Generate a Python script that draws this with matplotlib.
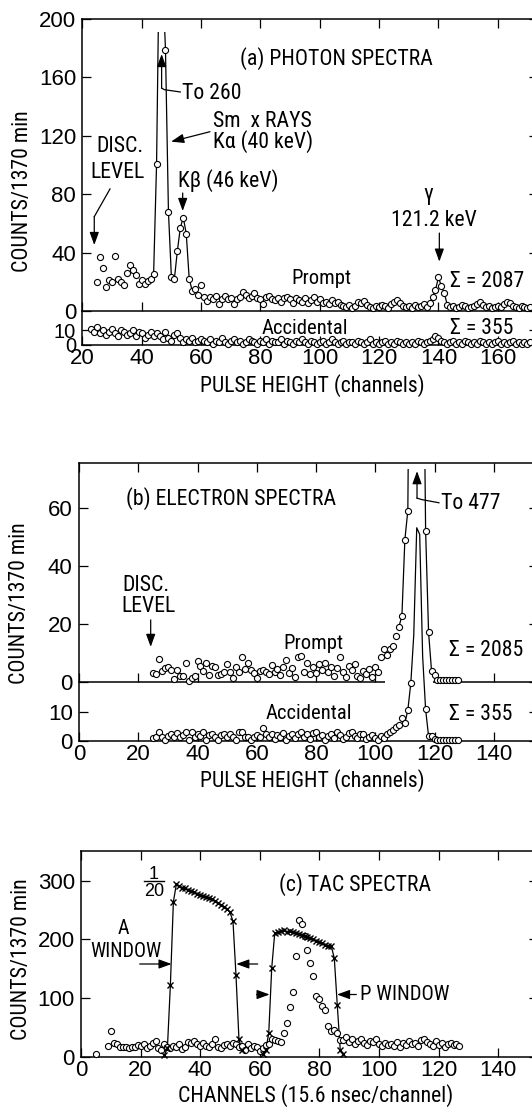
import os
import numpy as np
import matplotlib
matplotlib.use("Agg")
import matplotlib.pyplot as plt
from matplotlib import font_manager
from matplotlib.font_manager import FontProperties
from matplotlib.patches import Rectangle

# ---------------- (a) photon spectra ----------------
a_prompt_start = 25
a_prompt = [
    19.6, 37.2, 29.5, 16.6, 21.2, 19.6, 37.7, 21.9, 20.1, 17.8,
    25.8, 31.7, 28.1, 24.7, 18.3, 21.2, 18.3, 20.5, 21.9, 25.1,
    101, 260, 230, 179, 68, 23, 22, 41, 57, 64, 53, 22, 14, 15, 11, 18,
    9.4, 7.1, 9.8, 8.0, 10.3, 4.8, 8.2, 10.3, 8.2, 9.1, 4.8, 8.2, 9.4, 12.8, 11.2,
    8.7, 10.5, 12.1, 9.1, 8.0, 4.8,
    9.4, 10.3, 8.2, 7.5, 8.7, 6.4, 8.7, 9.8, 8.0, 5.7, 9.1, 7.5, 6.4, 8.7, 5.7,
    7.5, 9.4, 6.4, 8.2, 5.3, 6.4, 4.8, 7.5, 5.3, 6.4, 4.1,
    3.4, 2.7, 4.1, 2.1, 3.4, 6.4, 5.7, 6.8, 4.1, 2.7, 2.1, 3.4, 2.7, 4.1, 3.4,
    2.1, 4.8, 6.4, 7.5, 5.3, 3.4, 2.7, 3.4, 2.1, 4.1, 2.7, 3.4, 4.8, 2.7, 5.3,
    9.4, 14.4, 23, 17, 12, 4.1,
    2.7, 3.4, 2.1, 2.7, 4.1, 3.4, 2.1, 2.7, 3.4, 4.8, 6.4, 4.1, 2.7, 3.4,
    2.1, 2.7, 3.4, 2.7, 4.8, 6.4, 5.3, 3.4, 2.7, 2.1, 3.4, 2.7, 2.1, 2.7,
]
a_prompt_lines = [(44, 57), (137, 143)]
a_acc_start = 23
a_acc = [
    11, 9, 12, 8, 10, 7, 9, 11, 8, 6, 10, 9, 7, 8, 10, 6, 9, 8, 5, 7, 9, 6, 8,
    6, 4, 9, 5, 3, 7, 8, 5, 2, 4, 3, 5, 2, 3, 4,
    3, 2, 4, 1, 3, 2, 5, 2, 1, 3, 4, 2, 3, 1, 2, 4, 3, 2, 1, 3,
    2, 4, 1, 3, 2, 2, 4, 1, 3, 2, 1, 3, 2, 4, 2, 1, 3, 2, 1, 2,
    3, 1, 2, 4, 2, 1, 2, 3, 1, 2, 2, 1, 3, 2, 1, 2, 4, 1, 2, 1,
    2, 3, 1, 2, 1, 3, 2, 1, 2, 1, 2, 1, 3, 2, 1, 2, 3, 4, 6, 5,
    3, 2, 1, 2, 3, 1, 2, 1, 3, 2, 1, 2, 1, 3, 2, 1, 2, 1, 2, 3,
    1, 2, 1, 2, 3, 1, 2, 1, 2, 1, 2,
]
a_xticks = [20, 40, 60, 80, 100, 120, 140, 160]
a_prompt_yticks = [0, 40, 80, 120, 160, 200]
a_acc_yticks = [0, 10]

# ---------------- (b) electron spectra ----------------
b_prompt_start = 25
b_prompt = [
    3.1, 2.7, 7.9, 3.8, 4.6, 5.2, 4.0, 1.0, 4.0, 2.0, 2.1, 6.3, 0.2, 1.4, 1.8,
    7.1, 5.4, 3.7, 6.3, 2.3, 5.5, 5.2, 2.3, 2.6, 3.4, 6.1, 3.4, 1.2, 5.2, 3.4,
    8.4, 4.4, 6.3, 4.0, 3.1, 1.4, 3.7, 4.0, 3.4,
    2.5, 5.8, 3.2, 4.4, 2.2, 5.0, 7.4, 3.1, 4.8, 1.5, 8.6, 9.0, 3.5, 6.3, 2.8,
    5.2, 3.0, 6.0, 4.1, 6.3, 3.4, 5.0, 2.1, 4.6, 8.6, 3.3, 1.6, 5.5, 4.0, 6.0,
    2.0, 1.2, 3.8, 2.5, 4.4, 1.5, 5.2, 3.4,
    8.6, 11.2, 9.2, 11.2, 12.3, 15.8, 19.0, 22.7, 49, 59, 190, 390, 477, 330,
    150, 52, 17, 3.7, 2.3, 0.6, 0.6, 0.6, 0.6, 0.6, 0.6, 0.6, 0.6,
]
b_prompt_lines = [(108, 121)]
b_acc_start = 25
b_acc = [
    1.2, 1.3, 3.0, 1.5, 0.3, 1.8, 2.3, 1.3, 2.9, 1.5, 2.1, 3.0, 0.3, 3.0, 1.5,
    2.6, 1.8, 3.0, 0.3, 2.1, 2.6, 1.5, 0.3, 2.1, 2.6, 1.5, 2.3, 1.5, 0.3, 3.3,
    3.3, 1.5, 1.5, 0.3, 1.5, 2.1, 1.5, 4.4, 2.6,
    1.5, 2.6, 0.8, 2.1, 1.3, 2.8, 0.5, 1.8, 2.3, 1.0,
    2.6, 3.0, 1.5, 2.3, 0.8, 2.8, 3.3, 1.5, 2.1, 0.5,
    1.8, 2.6, 1.2, 3.0, 2.1, 0.8, 1.5, 2.8, 3.3, 1.8,
    1.0, 2.3, 2.6, 0.8, 1.5, 2.1, 1.2, 0.5, 1.8, 1.2, 2.6, 3.0,
    3.8, 4.8, 5.5, 7.9, 6.2, 10.8, 20.1, 36.9, 74.3, 72, 29.4, 11, 1.7, 1.7,
    0.6, 0.5, 0.5, 0.5, 0.5, 0.5, 0.5, 0.5, 0.5,
]
b_acc_lines = [(110, 120)]
b_xticks = [0, 20, 40, 60, 80, 100, 120, 140]
b_prompt_yticks = [0, 20, 40, 60]
b_acc_yticks = [0, 10]

# ---------------- (c) TAC spectra ----------------
tac_start = 5
tac_counts = [
    4, np.nan, np.nan, np.nan,
    19, 44, 23, 21, 17, 16, 17, 15, 17, 16, 20, 18, 21, 15, 19, 23, 27, 14, 12, 22,
    17, 15, 19, 16, 22, 13, 17, 25, 23, 27, 21, 19, 24, 18, 16, 22, 30, 17, 15, 20,
    22, 18, 24, 21, 16, 19, 12, 22, 14, 19, 17, 10, 15, 20,
    22, 30, 28, 26, 25, 40, 57, 85, 110, 172, 233, 227, 205, 182, 159, 137, 104,
    99, 86, 80, 53, 44, 46, 41, 28,
    28, 34, 25, 31, 22, 26, 30, 24, 20, 27, 25, 30, 22, 18, 24, 20, 22, 19, 25, 17,
    23, 20, 26, 21, 24, 19, 28, 30, 25, 22, 18, 26, 20, 23, 17, 21, 24, 20, 22, 19,
]
winA_start = 28
winA_counts = [3, 15, 123, 264,
               294, 291, 288, 287, 284, 282, 280, 278, 276, 274, 272, 270, 268, 266,
               262, 259, 256, 252, 246,
               231, 140, 30, 11]
winP_start = 61
winP_counts = [5, 11, 40, 151,
               210, 212, 214, 216, 213, 215, 212, 211, 209, 208, 206, 204, 202, 200,
               198, 196, 194, 191, 189, 188,
               168, 88, 11, 4]
c_xticks = [0, 20, 40, 60, 80, 100, 120, 140]
c_yticks = [0, 100, 200, 300]

# ---------------- fonts ----------------
W, H = 532, 1107
plt.rcParams["font.family"] = ["Liberation Sans", "DejaVu Sans"]


def pick_text_font():
    best = None
    bad = ("bold", "italic", "oblique", "light", "thin", "medium", "black", "semi")
    for f in font_manager.fontManager.ttflist:
        fn = os.path.basename(f.fname).lower().replace("-", "").replace("_", "")
        if any(b in fn for b in bad):
            continue
        if "liberationsansnarrow" in fn:
            rank, scale = 0, 1.0
        elif "robotocondensed" in fn:
            rank, scale = 1, 0.95
        else:
            continue
        if best is None or rank < best[0]:
            best = (rank, f.fname, scale)
    if best is None:
        return None, 0.84
    return best[1], best[2]


TXT_FILE, K = pick_text_font()
FS = 16.5 * K


def tprops(size):
    if TXT_FILE:
        return FontProperties(fname=TXT_FILE, size=size)
    return FontProperties(family=["Liberation Sans", "DejaVu Sans"], size=size)


fig = plt.figure(figsize=(W / 100, H / 100), dpi=100)
fig.patch.set_facecolor("white")
R = 538  # right spine (just outside the picture)


def px_axes(left, top, right, bottom):
    ax = fig.add_axes([left / W, 1 - bottom / H, (right - left) / W, (bottom - top) / H])
    ax.set_facecolor("none")
    for s in ax.spines.values():
        s.set_linewidth(1.1)
    ax.tick_params(which="both", direction="in", length=6.5, width=0.9,
                   top=True, right=True, labelsize=16, colors="k")
    ax.tick_params(axis="x", pad=2.5)
    ax.tick_params(axis="y", pad=4.5)
    return ax


def spectrum(ax, start, counts, segs=(), clip_top=None, free=False):
    ch = np.arange(start, start + len(counts))
    y = np.asarray(counts, float)
    for lo, hi in segs:
        m = (ch >= lo) & (ch <= hi)
        ln, = ax.plot(ch[m], y[m], color="k", lw=0.9, zorder=2)
        if free:
            ln.set_clip_on(False)
        elif clip_top is not None:
            x0, x1 = ax.get_xlim()
            ln.set_clip_path(Rectangle((x0, -1000), x1 - x0, clip_top + 1000,
                                       transform=ax.transData))
    ok = np.isfinite(y) & (y <= ax.get_ylim()[1])
    ax.plot(ch[ok], y[ok], "o", ls="none", ms=4.4, mfc="white", mec="k",
            mew=0.8, clip_on=False, zorder=3)


def arrow(ax, tail, tip):
    ax.annotate("", xy=tip, xytext=tail,
                arrowprops=dict(arrowstyle="-|>,head_length=0.55,head_width=0.2",
                                lw=0.9, color="k", shrinkA=0, shrinkB=0,
                                mutation_scale=14))


def txt(ax, x, y, s, ha="left", size=None):
    ax.text(x, y, s, ha=ha, va="center", fontproperties=tprops(size or FS), color="k")


# ---------------- panel (a) ----------------
a_l, a_scale = 82.4, 2.967
a_xlim = (20, 20 + (R - a_l) / a_scale)
axA = px_axes(a_l, 19, R, 311)
axA.set_xlim(a_xlim); axA.set_ylim(0, 200)
axA.set_xticks(a_xticks); axA.set_yticks(a_prompt_yticks)
axA.tick_params(labelbottom=False)
axAa = px_axes(a_l, 311, R, 345)
axAa.set_xlim(a_xlim); axAa.set_ylim(0, 34 / 1.46)
axAa.set_xticks(a_xticks); axAa.set_yticks(a_acc_yticks)
axAa.spines["top"].set_visible(False)
axAa.tick_params(top=False)
axAa.tick_params(axis="y", labelsize=14.5)

spectrum(axA, a_prompt_start, a_prompt, a_prompt_lines, clip_top=191)
spectrum(axAa, a_acc_start, a_acc)

txt(axA, 73.1, 173, "(a) PHOTON SPECTRA")
txt(axA, 53.5, 149, "To 260")
arrow(axA, (46.7, 152.7), (46.7, 176))
axA.plot([46.7, 47.6, 53.0], [152.7, 151.6, 150.0], color="k", lw=0.9)
txt(axA, 64, 130, "Sm  x RAYS")
txt(axA, 64, 116.4, "Kα (40 keV)")
arrow(axA, (63, 122.8), (49.9, 116))
txt(axA, 52.3, 89.7, "Kβ (46 keV)")
arrow(axA, (53.8, 80.8), (53.8, 68.5))
txt(axA, 32.6, 113, "DISC.", ha="center")
txt(axA, 31.8, 94.9, "LEVEL", ha="center")
axA.plot([29.3, 24.0], [83.6, 64.6], color="k", lw=0.9)
arrow(axA, (24.0, 64.6), (24.0, 45.2))
txt(axA, 136.5, 79.5, "γ", ha="center")
txt(axA, 138.4, 62.3, "121.2 keV", ha="center")
arrow(axA, (140.3, 53.4), (140.3, 33.8))
txt(axA, 90.5, 22.4, "Prompt", size=FS * 0.95)
txt(axA, 143.9, 20, "Σ = 2087")
txt(axAa, 80.5, 11.5, "Accidental", size=FS * 0.95)
txt(axAa, 143.9, 11.5, "Σ = 355")

# ---------------- panel (b) ----------------
b_l, b_scale = 79.0, 2.9625
b_xlim = (0, (R - b_l) / b_scale)
b_gap = (103.4, 119.5)
axB = px_axes(b_l, 462.7, R, 681.7)
axB.set_xlim(b_xlim); axB.set_ylim(0, 219 / 2.9)
axB.set_xticks(b_xticks); axB.set_yticks(b_prompt_yticks)
axB.tick_params(labelbottom=False)
axB.spines["bottom"].set_visible(False)
for t, v in zip(axB.xaxis.get_major_ticks(), b_xticks):
    if b_gap[0] < v < b_gap[1]:
        t.tick1line.set_visible(False)
axB.plot([b_xlim[0], b_gap[0]], [0, 0], color="k", lw=1.1, clip_on=False,
         solid_capstyle="butt")
axB.plot([b_gap[1], b_xlim[1]], [0, 0], color="k", lw=1.1, clip_on=False,
         solid_capstyle="butt")
axBa = px_axes(b_l, 681.7, R, 741)
axBa.set_xlim(b_xlim); axBa.set_ylim(0, 59.3 / 2.87)
axBa.set_xticks(b_xticks); axBa.set_yticks(b_acc_yticks)
axBa.spines["top"].set_visible(False)
axBa.tick_params(top=False)

spectrum(axB, b_prompt_start, b_prompt, b_prompt_lines, clip_top=73.2)
spectrum(axBa, b_acc_start, b_acc, b_acc_lines, free=True)

txt(axB, 16, 63, "(b) ELECTRON SPECTRA")
txt(axB, 22.5, 33.1, "DISC.", ha="center")
txt(axB, 23.5, 25.9, "LEVEL", ha="center")
arrow(axB, (24.2, 21.3), (24.2, 12))
txt(axB, 122.3, 61.3, "To 477")
arrow(axB, (114.1, 63.3), (114.1, 72.6))
axB.plot([114.1, 115.7, 121.5], [63.3, 62.8, 61.7], color="k", lw=0.9)
txt(axB, 68.9, 13.2, "Prompt", size=FS * 0.95)
txt(axB, 124.8, 10.9, "Σ = 2085")
txt(axBa, 63, 9.65, "Accidental", size=FS * 0.95)
txt(axBa, 124.8, 9.1, "Σ = 355")

# ---------------- panel (c) ----------------
c_l, c_scale = 81.0, 2.98
c_xlim = (0, (R - c_l) / c_scale)
axC = px_axes(c_l, 851, R, 1056.7)
axC.set_xlim(c_xlim); axC.set_ylim(0, 205.7 / 0.5867)
axC.set_xticks(c_xticks); axC.set_yticks(c_yticks)

spectrum(axC, tac_start, tac_counts)
for start, vals in ((winA_start, winA_counts), (winP_start, winP_counts)):
    ch = np.arange(start, start + len(vals))
    axC.plot(ch, vals, color="k", lw=0.9, zorder=2)
    axC.plot(ch, vals, "x", ls="none", ms=4.2, mec="k", mew=1.0, zorder=4,
             clip_on=False)

txt(axC, 66.4, 292.7, "(c) TAC SPECTRA")
axC.text(24.4, 311, "1", ha="center", va="center", fontsize=13)
axC.plot([21.1, 27.8], [300, 300], color="k", lw=1.0)
axC.text(24.4, 281.6, "20", ha="center", va="center", fontsize=13)
txt(axC, 14.3, 219, "A", ha="center", size=FS * 0.92)
txt(axC, 15.2, 179, "WINDOW", ha="center", size=FS * 0.92)
arrow(axC, (19.7, 158), (30.4, 158))
arrow(axC, (59.3, 158), (52.1, 158))
arrow(axC, (58.9, 106), (63.3, 106))
arrow(axC, (92.4, 106), (85.9, 106))
txt(axC, 93.5, 106, "P WINDOW", size=FS * 0.95)

# ---------------- axis titles ----------------
for (x, y) in ((23, 191), (20, 603), (22, 959)):
    fig.text(x / W, 1 - y / H, "COUNTS/1370 min", rotation=90, ha="center",
             va="center", fontproperties=tprops(FS))
for (x, y, s) in ((312, 386, "PULSE HEIGHT (channels)"),
                  (312, 781, "PULSE HEIGHT (channels)"),
                  (316, 1096, "CHANNELS (15.6 nsec/channel)")):
    fig.text(x / W, 1 - y / H, s, ha="center", va="center", fontproperties=tprops(FS))

fig.savefig("out.png", dpi=100)
